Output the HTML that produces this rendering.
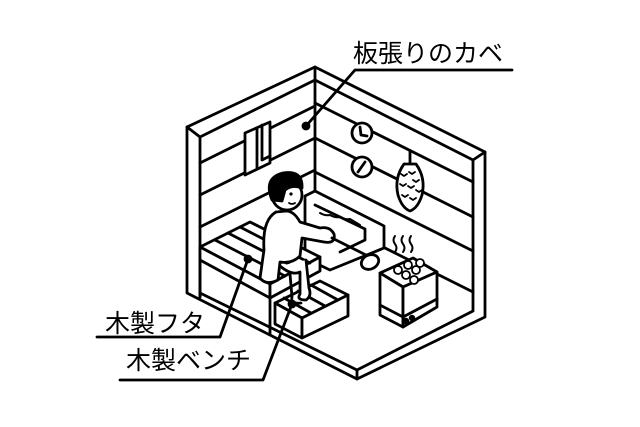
<!DOCTYPE html>
<html><head><meta charset="utf-8"><style>
html,body{margin:0;padding:0;background:#fff;width:640px;height:427px;overflow:hidden}
svg{display:block}
text{font-family:"Liberation Sans","Noto Sans CJK JP",sans-serif;font-size:25px;fill:#000}
</style></head><body>
<svg width="640" height="427" viewBox="0 0 640 427" fill="none" stroke="#000" stroke-width="2.8" stroke-linejoin="round" stroke-linecap="round">
<polygon points="315,67 485,152 485,317 357,379 187,293 187,127" fill="#fff"/>
<polyline points="200,297 200,137 315,80 473,160 473,310"/>
<line x1="315" y1="80" x2="315" y2="213"/>
<line x1="187" y1="127" x2="200" y2="137"/>
<line x1="485" y1="152" x2="473" y2="160"/>
<line x1="315" y1="67" x2="315" y2="80"/>
<polyline points="200,293 357,370 473,311"/>
<line x1="357" y1="370" x2="357" y2="379"/>
<line x1="315" y1="213" x2="473" y2="292"/>
<line x1="200" y1="163" x2="315" y2="106"/>
<line x1="200" y1="195" x2="315" y2="138"/>
<line x1="200" y1="227" x2="315" y2="170"/>
<line x1="315" y1="103" x2="473" y2="182"/>
<line x1="315" y1="138" x2="473" y2="217"/>
<line x1="315" y1="172" x2="473" y2="251"/>
<polygon points="245,133 270,122 270,163 245,175" fill="#fff"/>
<line x1="257" y1="128" x2="257" y2="168"/>
<polyline points="262,125 262,160 270,156"/>
<circle cx="362" cy="133" r="10" fill="#fff"/><polyline points="360,127 361,135 367,136"/>
<circle cx="362" cy="167" r="10" fill="#fff"/><line x1="358" y1="172" x2="365" y2="162"/>
<line x1="410" y1="152" x2="410" y2="163"/>
<path d="M404,164 Q394,178 398,195 Q402,208 410,211 Q418,208 422,195 Q426,178 416,164 Z" fill="#fff"/>
<path d="M401,174 l3,2 l3,-2 M409,172 l3,2 l3,-2 M413,180 l3,2 l3,-2 M400,184 l3,2 l3,-2 M408,186 l3,2 l3,-2 M416,190 l3,2 l3,-2 M402,195 l3,2 l3,-2 M410,198 l3,2 l3,-2" stroke-width="1.8"/>
<polygon points="305,196 315,191 384,226 384,248 330,270 305,258" fill="#fff"/>
<polyline points="315,205 365,229 365,240 340,252"/>
<path d="M320,213 q5,3 10,2 q5,3 10,2 q5,3 10,2 q5,3 10,6" stroke-width="2"/>
<polygon points="200,247 250,222 320,257 270,284" fill="#fff"/>
<polygon points="200,247 270,284 270,298 200,260" fill="#fff"/>
<polygon points="270,284 320,257 320,271 270,298" fill="#fff"/>
<line x1="215" y1="240" x2="285" y2="276"/>
<line x1="228" y1="233" x2="298" y2="269"/>
<line x1="240" y1="227" x2="310" y2="263"/>
<line x1="270" y1="298" x2="270" y2="334"/>
<line x1="200" y1="260" x2="200" y2="297"/>
<polygon points="275,303 320,281 348,295 302,318" fill="#fff"/>
<polygon points="275,303 302,318 302,338 275,324" fill="#fff"/>
<polygon points="302,318 348,295 348,316 302,338" fill="#fff"/>
<line x1="284" y1="298" x2="311" y2="313"/>
<line x1="298" y1="291" x2="325" y2="306"/>
<line x1="311" y1="285" x2="338" y2="300"/>
<path d="M276,212 Q262,220 264,250 L260,278 Q266,286 278,280 L280,262 Q292,264 300,256 L302,238 L324,242 Q336,244 334,234 Q330,226 320,228 L300,222 Q294,211 286,211 Z" fill="#fff"/>
<path d="M280,266 Q292,276 300,272 L300,294 Q296,300 306,300 Q312,296 309,288 L306,260" fill="#fff"/>
<path d="M290,274 L292,297 Q290,304 301,303"/>
<circle cx="287" cy="195" r="15" fill="#fff"/>
<path d="M272,200 Q263,178 283,173 Q303,170 302,188 Q292,184 285,190 L282,201 Z" fill="#000"/>
<circle cx="291" cy="194" r="1.6" fill="#000" stroke="none"/>
<path d="M289,203 q3,2 6,0" stroke-width="1.8"/>
<line x1="332" y1="238" x2="366" y2="255"/>
<ellipse cx="370" cy="262" rx="9" ry="7" fill="#fff" transform="rotate(-25 370 262)"/>
<polygon points="380,273 413,258 437,272 403,287" fill="#fff"/>
<polygon points="380,273 403,287 403,327 380,315" fill="#fff"/>
<polygon points="403,287 437,272 437,307 403,327" fill="#fff"/>
<line x1="380" y1="305" x2="403" y2="317"/><line x1="403" y1="317" x2="437" y2="299"/>
<circle cx="398" cy="270" r="4" fill="#fff" stroke-width="1.8"/><circle cx="406" cy="275" r="4" fill="#fff" stroke-width="1.8"/>
<circle cx="408" cy="265" r="4" fill="#fff" stroke-width="1.8"/><circle cx="416" cy="270" r="4" fill="#fff" stroke-width="1.8"/>
<circle cx="420" cy="263" r="4" fill="#fff" stroke-width="1.8"/><circle cx="414" cy="280" r="4" fill="#fff" stroke-width="1.8"/>
<circle cx="406" cy="321" r="1.8" fill="#000"/><circle cx="412" cy="318" r="1.8" fill="#000"/>
<path d="M395,236 q-3,4 0,8 q3,4 0,8 M403,236 q-3,4 0,8 q3,4 0,8 M411,236 q-3,4 0,8 q3,4 0,8" stroke-width="2"/>
<polyline points="512,70 355,70 306,126"/>
<circle cx="306" cy="126" r="3" fill="#000"/>
<polyline points="97,337 220,337 248,259"/>
<circle cx="248" cy="259" r="3" fill="#000"/>
<polyline points="120,380 263,380 292,304"/>
<circle cx="292" cy="304" r="3" fill="#000"/>
<text x="353" y="62" stroke="none">板張りのカベ</text>
<text x="105" y="332" stroke="none">木製フタ</text>
<text x="126" y="369" stroke="none">木製ベンチ</text>
</svg>
</body></html>
